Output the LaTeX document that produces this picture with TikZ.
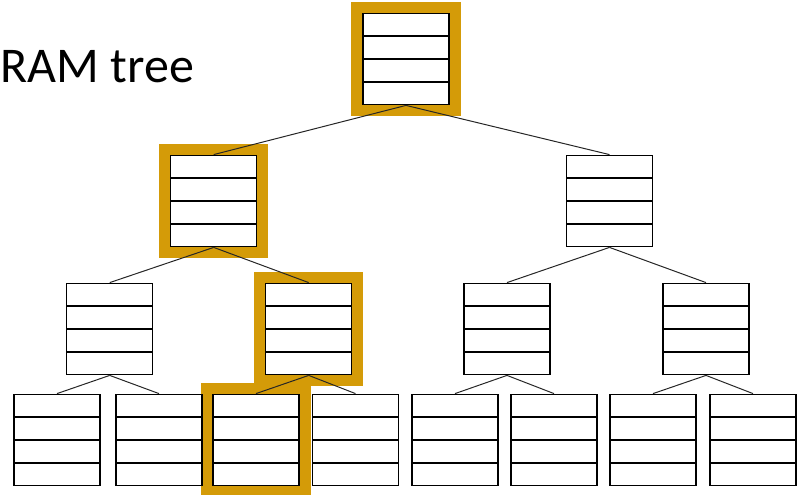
\documentclass[tikz,border=0pt]{standalone}
\usepackage{fontspec}
\setmainfont{Carlito}
\usetikzlibrary{calc,backgrounds}

\definecolor{pathgold}{RGB}{212,155,8}

\tikzset{
  bucket/.style={draw, line width=1.3pt, fill=white, inner sep=0pt,
    minimum width=86pt, minimum height=91.5pt,
    path picture={
      \foreach \r in {0.25,0.5,0.75}
        \draw[line width=1.3pt]
          ($(path picture bounding box.north west)!\r!(path picture bounding box.south west)$) --
          ($(path picture bounding box.north east)!\r!(path picture bounding box.south east)$);
    }},
  edge/.style={line width=1pt, black!85},
}

\newcommand{\onpath}[1]{%
  \fill[pathgold] ([shift={(-11pt,11pt)}]#1.north west) rectangle ([shift={(11pt,-11pt)}]#1.south east);}

\begin{document}
\begin{tikzpicture}[x=1pt,y=-1pt]
  \useasboundingbox (0,0) rectangle (798,495);

  \node[anchor=base west, font=\fontsize{50}{60}\selectfont] (title) at (-3,82) {RAM tree};

  % root
  \node[bucket] (r) at (406,59) {};
  % level 1
  \node[bucket] (a) at (213.7,201) {};
  \node[bucket] (b) at (609.5,201) {};
  % level 2
  \node[bucket] (aa) at (109.7,329) {};
  \node[bucket] (ab) at (308.7,329) {};
  \node[bucket] (ba) at (507,329) {};
  \node[bucket] (bb) at (706,329) {};
  % leaves
  \node[bucket] (aaa) at (57,440) {};
  \node[bucket] (aab) at (159,440) {};
  \node[bucket] (aba) at (256,440) {};
  \node[bucket] (abb) at (355.5,440) {};
  \node[bucket] (baa) at (455,440) {};
  \node[bucket] (bab) at (554,440) {};
  \node[bucket] (bba) at (653,440) {};
  \node[bucket] (bbb) at (753,440) {};

  % edges, parent bottom to child top
  \foreach \p/\c in {r/a,r/b,a/aa,a/ab,b/ba,b/bb,
                     aa/aaa,aa/aab,ab/aba,ab/abb,ba/baa,ba/bab,bb/bba,bb/bbb}
    \draw[edge] (\p.south) -- (\c.north);

  % path from root to leaf
  \begin{scope}[on background layer]
    \onpath{r}
    \onpath{a}
    \onpath{ab}
    \onpath{aba}
  \end{scope}
\end{tikzpicture}
\end{document}
